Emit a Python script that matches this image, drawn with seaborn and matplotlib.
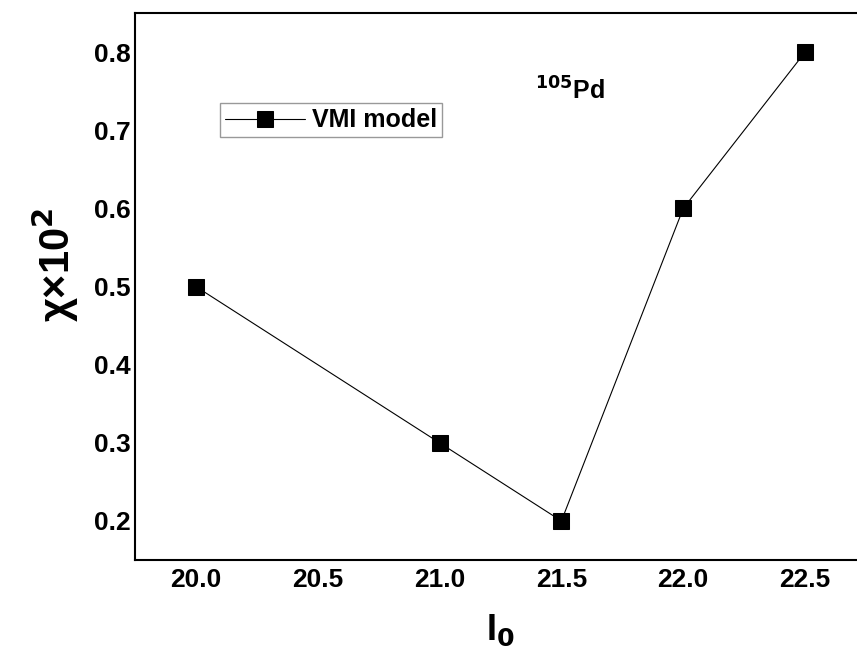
import matplotlib
matplotlib.use("Agg")
import matplotlib.pyplot as plt
import pandas as pd
import seaborn as sns

i0_values = [20.0, 21.0, 21.5, 22.0, 22.5]
chi_values = [0.5, 0.3, 0.2, 0.6, 0.8]
series_label = "VMI model"

df = pd.DataFrame({"I0": i0_values, "chi": chi_values, "model": series_label})

sns.set_theme(style="white")
plt.rcParams["font.family"] = ["Liberation Sans", "DejaVu Sans"]
plt.rcParams["text.color"] = "black"
plt.rcParams["axes.labelcolor"] = "black"
plt.rcParams["xtick.color"] = "black"
plt.rcParams["ytick.color"] = "black"

fig = plt.figure(figsize=(8.57, 6.55), dpi=100)
ax = fig.add_axes([0.1575, 0.145, 0.853, 0.835])

sns.lineplot(
    data=df, x="I0", y="chi", hue="model", palette=["black"],
    marker="s", markersize=12, markeredgecolor="black", linewidth=0.8, ax=ax,
)

ax.set_xlim(19.75, 22.75)
ax.set_ylim(0.15, 0.85)
ax.set_xticks([20.0, 20.5, 21.0, 21.5, 22.0, 22.5])
ax.set_xticklabels(["20.0", "20.5", "21.0", "21.5", "22.0", "22.5"])
ax.set_yticks([0.2, 0.3, 0.4, 0.5, 0.6, 0.7, 0.8])
ax.set_yticklabels(["0.2", "0.3", "0.4", "0.5", "0.6", "0.7", "0.8"])
ax.set_xticks([20.25, 20.75, 21.25, 21.75, 22.25], minor=True)
ax.set_yticks([0.25, 0.35, 0.45, 0.55, 0.65, 0.75], minor=True)
ax.tick_params(axis="both", which="both", direction="in", labelsize=19, pad=3)
ax.tick_params(axis="x", which="major", pad=6)
ax.tick_params(axis="both", which="major", length=4, width=0.8)
ax.tick_params(axis="both", which="minor", length=2, width=0.6)
for lab in ax.get_xticklabels() + ax.get_yticklabels():
    lab.set_fontweight("bold")
for side in ["left", "bottom", "top", "right"]:
    ax.spines[side].set_color("black")
    ax.spines[side].set_linewidth(1.5)

ax.set_xlabel("I$_\\mathbf{0}$", fontsize=26, fontweight="bold")
ax.xaxis.set_label_coords(0.5, -0.096)
ax.set_ylabel("χ×10$^\\mathbf{2}$", fontsize=30, fontweight="bold")
ax.yaxis.set_label_coords(-0.074, 0.54)

ax.text(0.547, 0.841, "$^{\\mathbf{105}}$Pd", transform=ax.transAxes,
        fontsize=18, fontweight="bold", va="baseline")

leg = ax.legend(loc="upper left", bbox_to_anchor=(0.116, 0.835), frameon=True,
                fancybox=False, edgecolor="gray", fontsize=18, borderpad=0.2,
                handlelength=3.2, handletextpad=0.3, borderaxespad=0)
leg.get_frame().set_linewidth(1.0)
for t in leg.get_texts():
    t.set_fontweight("bold")

fig.savefig("out.png", dpi=100)
